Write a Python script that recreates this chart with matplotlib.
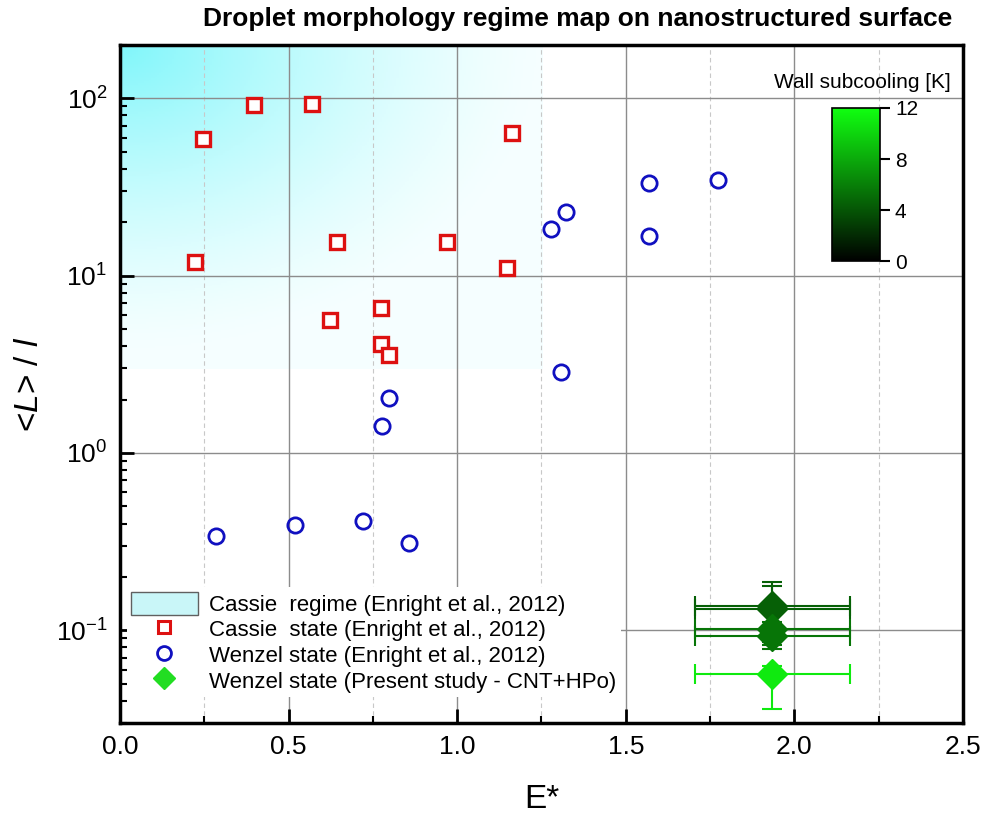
import numpy as np
import matplotlib
matplotlib.use("Agg")
import matplotlib.pyplot as plt
from matplotlib.colors import LinearSegmentedColormap, Normalize
from matplotlib.patches import Patch
from matplotlib.lines import Line2D
from matplotlib.ticker import LogLocator, MultipleLocator

plt.rcParams['font.family'] = ['Liberation Sans Narrow', 'Liberation Sans', 'DejaVu Sans']
plt.rcParams['mathtext.fontset'] = 'custom'
plt.rcParams['mathtext.rm'] = 'Liberation Sans Narrow'
plt.rcParams['mathtext.it'] = 'Liberation Sans:italic'

# Cassie state (Enright et al., 2012)
cassie_e = [0.246, 0.398, 0.570, 1.163, 0.223, 0.644, 0.970, 1.148, 0.774, 0.623, 0.774, 0.798]
cassie_l = [58.8, 91.4, 92.5, 63.5, 12.0, 15.5, 15.5, 11.1, 6.6, 5.6, 4.14, 3.59]

# Wenzel state (Enright et al., 2012)
wenzel_e = [1.279, 1.323, 1.570, 1.570, 1.774, 1.309, 0.798, 0.777, 0.285, 0.519, 0.721, 0.858]
wenzel_l = [18.4, 22.7, 33.4, 16.8, 34.7, 2.85, 2.03, 1.41, 0.341, 0.394, 0.414, 0.312]

# Present study - CNT+HPo
present_e = [1.934, 1.934, 1.934, 1.934, 1.934]
present_l = [0.137, 0.132, 0.102, 0.093, 0.0565]
present_l_lo = [0.090, 0.086, 0.0823, 0.0783, 0.0359]
present_l_hi = [0.186, 0.177, 0.125, 0.112, 0.0627]
present_e_err = [0.23, 0.23, 0.23, 0.23, 0.23]
subcooling = [4.5, 4.5, 5.5, 5.5, 11.0]

# Cassie regime box
regime_e = (0.0, 1.25)
regime_l = (3.0, 200.0)

fig = plt.figure(figsize=(9.93, 8.15), dpi=100)
ax = fig.add_axes([0.1208, 0.1129, 0.849, 0.832])

# gradient for the Cassie regime
gx = np.linspace(regime_e[0], regime_e[1], 200)
gy = np.logspace(np.log10(regime_l[0]), np.log10(regime_l[1]), 200)
u = (gx - regime_e[0]) / (regime_e[1] - regime_e[0])
v = (np.log10(regime_l[1]) - np.log10(gy)) / (np.log10(regime_l[1]) - np.log10(regime_l[0]))
U, V = np.meshgrid(u, v)
t = 0.08 + 0.92 * np.clip(1 - np.hypot(U / 1.0, V / 0.95), 0, 1) ** 1.4
cyan = LinearSegmentedColormap.from_list('cy', ['#ffffff', '#7ff6fa'])
ax.pcolormesh(gx, gy, t, cmap=cyan, vmin=0, vmax=1, shading='auto', zorder=0, rasterized=True)

ax.set_xscale('linear')
ax.set_yscale('log')
ax.set_xlim(0, 2.5)
ax.set_ylim(0.03, 200)

ax.xaxis.set_major_locator(MultipleLocator(0.5))
ax.xaxis.set_minor_locator(MultipleLocator(0.25))
ax.yaxis.set_major_locator(LogLocator(base=10))
ax.yaxis.set_minor_locator(LogLocator(base=10, subs=np.arange(2, 10)))
ax.grid(True, which='major', color='#8c8c8c', lw=1.0, zorder=1)
ax.grid(True, which='minor', axis='x', color='#c8c8c8', lw=0.8, ls=(0, (4, 3)), zorder=1)
ax.set_axisbelow(True)

ax.plot(cassie_e, cassie_l, 's', ms=9.5, mfc='white', mec='#dd1111', mew=2.4, ls='none', zorder=3)
ax.plot(wenzel_e, wenzel_l, 'o', ms=11, mfc='none', mec='#1010c0', mew=2.0, ls='none', zorder=3)

green = LinearSegmentedColormap.from_list('bg', ['#000000', '#10ff10'])
norm = Normalize(0, 12)
for i in range(len(present_e)):
    c = green(norm(subcooling[i]))
    yerr = [[present_l[i] - present_l_lo[i]], [present_l_hi[i] - present_l[i]]]
    ax.errorbar(present_e[i], present_l[i], xerr=present_e_err[i], yerr=yerr, fmt='D', ms=15,
                color=c, mec=c, ecolor=c, elinewidth=1.5, capsize=7, capthick=1.5, zorder=4)

for s in ax.spines.values():
    s.set_linewidth(2.5)
ax.tick_params(which='major', direction='in', length=10, width=2, labelsize=19, top=False, right=False, pad=9)
ax.tick_params(which='minor', direction='in', length=5, width=1.5, top=False, right=False)

ax.set_xlabel('E*', fontsize=24, labelpad=18, family=['Liberation Sans', 'DejaVu Sans'])
ax.set_ylabel(r'<$L$> / $l$', fontsize=24, labelpad=8, family=['Liberation Sans', 'DejaVu Sans'])
ax.text(0.543, 1.02, 'Droplet morphology regime map on nanostructured surface', transform=ax.transAxes,
        ha='center', va='bottom', fontsize=19, fontweight='bold')

handles = [
    Patch(facecolor='#c9f6f8', edgecolor='#606060', lw=1.0),
    Line2D([], [], marker='s', ls='none', ms=8, mfc='white', mec='#dd1111', mew=2.2),
    Line2D([], [], marker='o', ls='none', ms=10, mfc='none', mec='#1010c0', mew=2.0),
    Line2D([], [], marker='D', ls='none', ms=11, color='#22dd22'),
]
labels = ['Cassie  regime (Enright et al., 2012)',
          'Cassie  state (Enright et al., 2012)',
          'Wenzel state (Enright et al., 2012)',
          'Wenzel state (Present study - CNT+HPo)']
leg = ax.legend(handles, labels, loc='upper left', bbox_to_anchor=(0.008, 0.2),
                prop={'family': ['Liberation Sans', 'DejaVu Sans'], 'size': 16},
                frameon=True, facecolor='white', edgecolor='none', framealpha=1.0, fancybox=False,
                labelspacing=0.08, handlelength=3.0, handleheight=1.2, handletextpad=0.5,
                borderpad=0.2, borderaxespad=0.0)
leg.set_zorder(5)

cax = ax.inset_axes([0.845, 0.681, 0.057, 0.226])
sm = plt.cm.ScalarMappable(norm=norm, cmap=green)
cb = fig.colorbar(sm, cax=cax, ticks=[0, 4, 8, 12])
cb.outline.set_linewidth(1.2)
cb.ax.tick_params(labelsize=15, length=7, width=1.5)
ax.text(0.985, 0.945, 'Wall subcooling [K]', transform=ax.transAxes, ha='right', va='center',
        fontsize=15, family=['Liberation Sans', 'DejaVu Sans'])

fig.savefig('out.png', dpi=100)
